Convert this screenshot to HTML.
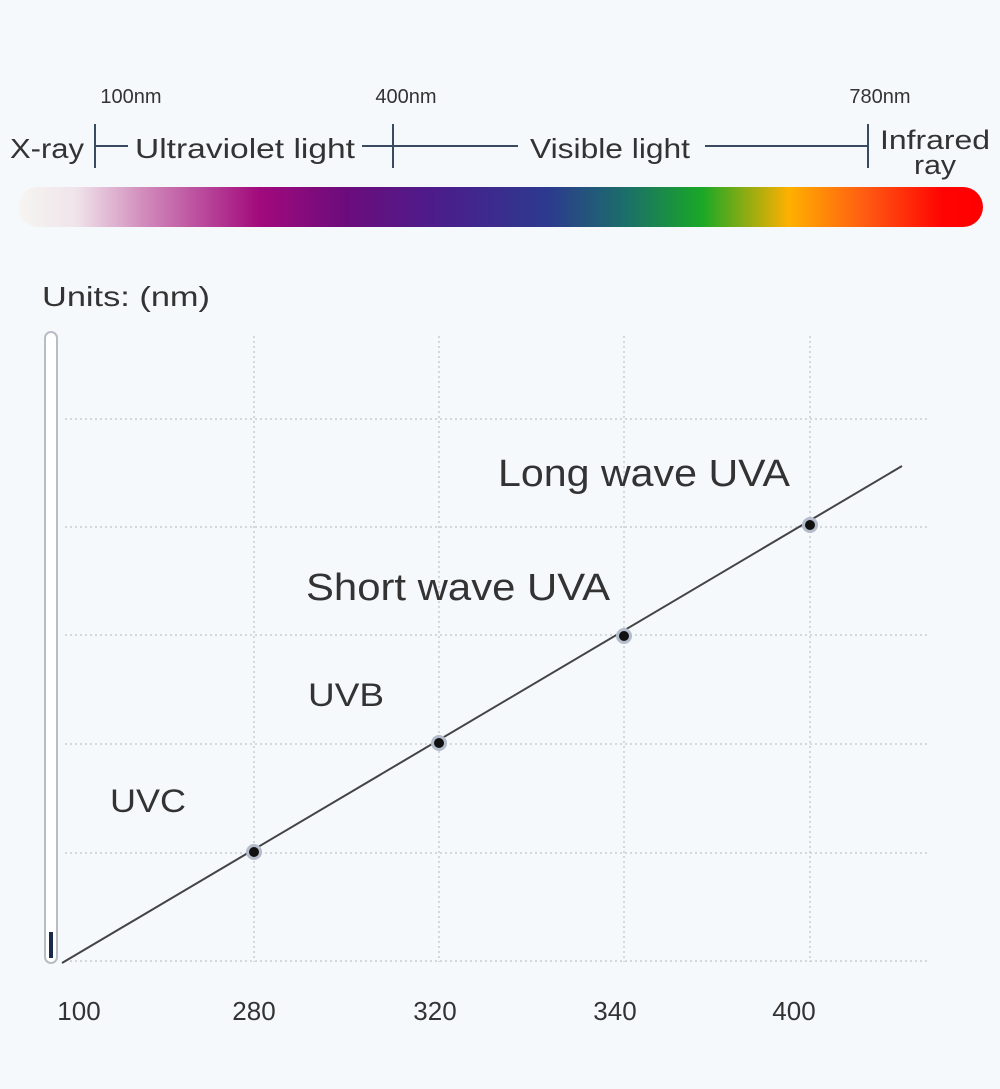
<!DOCTYPE html>
<html><head><meta charset="utf-8"><style>
body{margin:0;background:#f6f9fc;}
svg{display:block;font-family:"Liberation Sans",sans-serif;}
</style></head><body>
<svg width="1000" height="1089" viewBox="0 0 1000 1089">
<defs>
<linearGradient id="sp" x1="18" x2="982" y1="0" y2="0" gradientUnits="userSpaceOnUse">
<stop offset="0" stop-color="#f7f5f2"/>
<stop offset="0.06" stop-color="#efe4ea"/>
<stop offset="0.13" stop-color="#d28cbc"/>
<stop offset="0.25" stop-color="#a20a7c"/>
<stop offset="0.34" stop-color="#6c0c7c"/>
<stop offset="0.44" stop-color="#4a1e8c"/>
<stop offset="0.55" stop-color="#2c3a8e"/>
<stop offset="0.63" stop-color="#1b6e6a"/>
<stop offset="0.71" stop-color="#1aa826"/>
<stop offset="0.80" stop-color="#ffb000"/>
<stop offset="0.88" stop-color="#ff5a12"/>
<stop offset="0.96" stop-color="#ff0202"/>
<stop offset="1" stop-color="#ff0000"/>
</linearGradient>
</defs>
<rect width="1000" height="1089" fill="#f6f9fc"/>
<g font-size="20" fill="#333" text-anchor="middle">
<text x="131" y="103">100nm</text>
<text x="406" y="103">400nm</text>
<text x="880" y="103">780nm</text>
</g>
<g font-size="28" fill="#333">
<text x="10" y="158" textLength="74" lengthAdjust="spacingAndGlyphs">X-ray</text>
<text x="135" y="158" textLength="220" lengthAdjust="spacingAndGlyphs">Ultraviolet light</text>
<text x="530" y="158" textLength="160" lengthAdjust="spacingAndGlyphs">Visible light</text>
<text x="880" y="149" font-size="27" textLength="110" lengthAdjust="spacingAndGlyphs">Infrared</text>
<text x="914" y="174" font-size="27" textLength="42" lengthAdjust="spacingAndGlyphs">ray</text>
</g>
<g stroke="#3a4a60" stroke-width="2">
<line x1="95" y1="124" x2="95" y2="168"/>
<line x1="96" y1="146" x2="128" y2="146"/>
<line x1="393" y1="124" x2="393" y2="168"/>
<line x1="362" y1="146" x2="518" y2="146"/>
<line x1="705" y1="146" x2="868" y2="146"/>
<line x1="868" y1="124" x2="868" y2="168"/>
</g>
<rect x="18" y="187" width="965" height="40" rx="20" fill="url(#sp)"/>
<text x="42" y="306" font-size="28" fill="#333" textLength="168" lengthAdjust="spacingAndGlyphs">Units: (nm)</text>
<g stroke="#c8ccd2" stroke-width="1.5" stroke-dasharray="2,3">
<line x1="254" y1="336" x2="254" y2="962"/>
<line x1="439" y1="336" x2="439" y2="962"/>
<line x1="624" y1="336" x2="624" y2="962"/>
<line x1="810" y1="336" x2="810" y2="962"/>
<line x1="65" y1="419" x2="930" y2="419"/>
<line x1="65" y1="527" x2="930" y2="527"/>
<line x1="65" y1="635" x2="930" y2="635"/>
<line x1="65" y1="744" x2="930" y2="744"/>
<line x1="65" y1="853" x2="930" y2="853"/>
<line x1="65" y1="961" x2="930" y2="961"/>
</g>
<rect x="45" y="332" width="12" height="631" rx="6" fill="#fff" stroke="#b8bcc4" stroke-width="2"/>
<rect x="49" y="932" width="4" height="26" fill="#1a2a4a"/>
<line x1="62" y1="963" x2="902" y2="466" stroke="#444" stroke-width="2"/>
<g fill="#111">
<circle cx="254" cy="852" r="8" fill="#b4bccc"/><circle cx="254" cy="852" r="5"/>
<circle cx="439" cy="743" r="8" fill="#b4bccc"/><circle cx="439" cy="743" r="5"/>
<circle cx="624" cy="636" r="8" fill="#b4bccc"/><circle cx="624" cy="636" r="5"/>
<circle cx="810" cy="525" r="8" fill="#b4bccc"/><circle cx="810" cy="525" r="5"/>
</g>
<g fill="#333">
<text x="498" y="486" font-size="38" textLength="292" lengthAdjust="spacingAndGlyphs">Long wave UVA</text>
<text x="306" y="600" font-size="38" textLength="304" lengthAdjust="spacingAndGlyphs">Short wave UVA</text>
<text x="308" y="706" font-size="32" textLength="76" lengthAdjust="spacingAndGlyphs">UVB</text>
<text x="110" y="812" font-size="32" textLength="76" lengthAdjust="spacingAndGlyphs">UVC</text>
</g>
<g font-size="26" fill="#333" text-anchor="middle">
<text x="79" y="1020">100</text>
<text x="254" y="1020">280</text>
<text x="435" y="1020">320</text>
<text x="615" y="1020">340</text>
<text x="794" y="1020">400</text>
</g>
</svg>
</body></html>
